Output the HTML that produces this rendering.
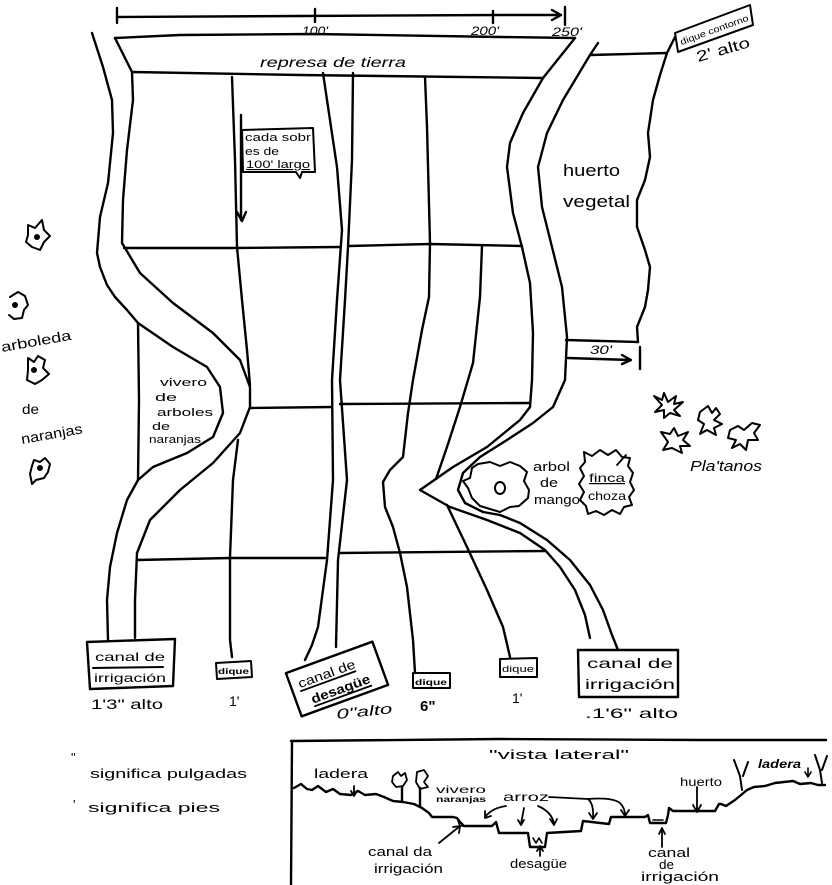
<!DOCTYPE html>
<html><head><meta charset="utf-8">
<style>
html,body{margin:0;padding:0;background:#fff;}
svg{display:block;}
text{font-family:"Liberation Sans",sans-serif;fill:#000;stroke:none;}
</style></head><body>
<svg width="832" height="885" viewBox="0 0 832 885" xmlns="http://www.w3.org/2000/svg">
<rect x="0" y="0" width="832" height="885" fill="#fff"/>
<g fill="none" stroke="#000" stroke-width="2.4" stroke-linecap="round" stroke-linejoin="round">
<!-- scale bar -->
<path d="M117,17 L300,16 L500,15 L561,15"/>
<path d="M117,8 V23 M315,9 V22 M493,11 V23 M565,7 V25"/>
<path d="M552,10 L561,15 L552,20"/>
<!-- dam -->
<path d="M115,38 L180,35 L313,34 L500,37 L575,38"/>
<path d="M132,72 L300,75 L543,78"/>
<!-- left canal -->
<path d="M115,38 L132,72 L133,100 L127,150 L123,200 L122,243 L140,273 L173,303 L213,333 L240,360 L250,387 L250,407 L240,433 L213,463 L180,490 L150,520 L137,553 L135,600 L135,638"/>
<path d="M92,33 L103,67 L112,100 L113,133 L108,183 L100,217 L97,253 L100,267 L107,285 L115,297 L127,310 L138,323 L173,347 L207,367 L220,387 L223,413 L213,437 L187,453 L153,467 L138,480 L127,500 L117,533 L110,567 L107,600 L108,640"/>
<path d="M138,323 L139,400 L138,480"/>
<!-- dique 1 -->
<path d="M232,77 L235,160 L237,247 L242,300 L247,350 L250,385"/>
<path d="M238,440 L233,480 L230,557 L230,640 L232,657"/>
<!-- drain -->
<path d="M323,73 L327,100 L337,167 L342,230 L337,300 L332,380 L333,480 L327,560 L318,627 L312,645 L305,660"/>
<path d="M353,73 L352,160 L348,247 L345,300 L340,380 L347,480 L338,560 L336,647"/>
<!-- dique 3 -->
<path d="M425,77 L427,127 L430,243 L429,297 L422,330 L413,380 L408,413 L403,457 L390,470 L383,482 L385,507 L393,527 L400,553 L407,587 L413,640 L415,673"/>
<!-- dique 4 -->
<path d="M482,246 L480,297 L473,363 L460,407 L447,447 L436,479"/>
<path d="M447,505 L467,547 L487,590 L503,627 L510,657"/>
<!-- right canal -->
<path d="M575,38 L543,78 L523,113 L510,143 L507,167 L513,213 L522,247 L530,283 L533,333 L532,380 L530,407 L520,420 L487,447 L453,467 L420,490 L450,507 L487,520 L520,533 L545,550 L560,567 L575,590 L585,615 L590,638"/>
<path d="M598,43 L590,55 L563,100 L547,133 L538,167 L542,207 L552,247 L562,287 L567,337 L565,380 L553,407 L533,423 L507,440 L480,457 L463,473 L458,490 L465,503 L483,512 L500,515 L520,523 L547,540 L570,560 L590,585 L603,610 L612,635 L618,650"/>
<!-- horizontals -->
<path d="M124,248 L230,248 L340,247"/>
<path d="M349,246 L430,244 L522,246"/>
<path d="M250,408 L332,407"/>
<path d="M340,404 L530,403"/>
<path d="M137,560 L230,558 L327,558"/>
<path d="M340,553 L545,551"/>
<!-- huerto -->
<path d="M590,55 L667,53"/>
<path d="M675,37 L667,53 L660,75 L653,100 L648,133 L650,157 L645,180 L637,200 L637,227 L645,250 L650,267 L648,290 L645,307 L637,327 L638,342"/>
<path d="M566,340 L638,342"/>
<path d="M640,347 V369"/>
<path d="M568,358 L630,360 M622,355 L631,360 L622,364"/>
<!-- cada box + arrow -->
<path d="M242,130 L313,128 L315,172 L302,172 L300,178 L296,172 L243,172 Z" stroke-width="2"/>
<path d="M241,115 V220 M237,212 L242,221 L246,212"/>
<!-- dique contorno box -->
<path d="M675,33 L750,5 L753,25 L678,52 Z" stroke-width="2"/>
<!-- mango tree -->
<path d="M478,464 L490,462 L500,466 L510,462 L520,466 L527,472 L524,481 L529,490 L528,498 L519,506 L510,507 L500,512 L490,509 L480,506 L472,498 L468,488 L463,481 L470,478 L472,468 Z" stroke-width="2"/>
<ellipse cx="500" cy="488" rx="5" ry="6" stroke-width="2"/>
<!-- finca choza jagged -->
<path d="M584,452 L592,456 L600,450 L608,455 L616,450 L622,457 L630,458 L628,466 L633,473 L630,482 L634,490 L629,497 L632,505 L624,507 L620,514 L612,510 L604,515 L596,511 L588,514 L586,506 L580,500 L584,492 L579,484 L584,476 L580,468 L585,462 Z" stroke-width="2"/>
<path d="M617,465 L626,455" stroke-width="1.8"/>
<!-- left trees -->
<path d="M28,225 L35,228 L42,220 L44,230 L50,236 L44,242 L40,250 L32,247 L26,242 L28,235 Z" stroke-width="2"/>
<circle cx="37" cy="237" r="1.8" fill="#000"/>
<path d="M10,297 L18,292 L25,296 L28,305 L24,310 L22,318 L14,319 L9,315" stroke-width="2"/>
<circle cx="15" cy="305" r="1.8" fill="#000"/>
<path d="M28,358 L34,362 L38,356 L45,360 L43,368 L49,374 L42,380 L35,384 L27,380 L28,370 Z" stroke-width="2"/>
<circle cx="34" cy="370" r="1.8" fill="#000"/>
<path d="M34,460 L40,462 L45,458 L50,464 L48,472 L44,478 L36,480 L32,484 L30,474 L32,466 Z" stroke-width="2"/>
<circle cx="40" cy="468" r="1.8" fill="#000"/>
<!-- platanos leaves -->
<g stroke-width="2">
<path d="M654,396 L662,400 L664,393 L668,402 L676,396 L674,404 L683,402 L674,410 L680,416 L670,413 L664,418 L664,410 L655,412 L662,405 Z"/>
<path d="M700,412 L708,406 L712,413 L716,408 L720,414 L714,420 L722,424 L714,428 L716,435 L707,430 L700,434 L704,424 L698,420 Z"/>
<path d="M661,432 L670,434 L674,428 L678,436 L688,432 L683,440 L690,446 L680,446 L682,453 L672,448 L663,450 L668,442 Z"/>
<path d="M730,430 L738,426 L744,430 L752,423 L760,425 L754,433 L758,440 L748,440 L746,450 L740,444 L732,448 L736,440 L728,438 Z"/>
</g>
<!-- bottom boxes -->
<path d="M87,642 L175,639 L173,686 L90,689 Z"/>
<path d="M93,668 L163,667" stroke-width="2"/>
<path d="M216,663 L251,661 L252,677 L217,679 Z" stroke-width="2"/>
<g transform="translate(337,679) rotate(-20)">
<rect x="-46" y="-23" width="92" height="46"/>
<path d="M-38,-1 L20,-1 M-30,18 L30,18" stroke-width="1.8"/>
</g>
<path d="M413,673 L450,673 L450,688 L413,688 Z" stroke-width="2"/>
<path d="M500,659 L537,658 L537,677 L500,677 Z" stroke-width="2"/>
<path d="M578,650 L678,650 L678,697 L579,697 Z"/>
<!-- side view frame -->
<path d="M292,742 L291,885"/>
<path d="M291,741 L500,739 L700,740 L826,740"/>
<!-- profile -->
<path d="M294,788 L301,784 L307,789 L312,790 L318,786 L326,792 L333,789 L340,794 L351,795 L358,791 L365,795 L376,794 L384,797 L393,801 L403,802 L414,804 L422,808 L429,813 L432,817 L453,817 L457,818 L460,822 L464,826 L492,826 L496,822 L499,833 L528,833 L530,847 L545,847 L547,833 L581,831 L583,821 L609,824 L611,817 L645,817 L648,815 L650,823 L666,823 L668,815 L669,808 L673,811 L715,811 L719,804 L721,804 L726,806 L735,800 L747,790 L754,787 L765,786 L775,783 L793,781 L800,784 L811,783 L818,785 L825,785"/>
<!-- notches details -->
<path d="M533,838 L536,843 L539,838 L542,843" stroke-width="1.6"/>
<path d="M457,818 L460,826 L466,826" stroke-width="1.6"/>
<path d="M653,820 L663,820" stroke-width="1.6"/>
<!-- tree icons side -->
<path d="M393,776 L398,772 L401,776 L405,773 L407,780 L403,786 L396,787 L392,782 Z" stroke-width="1.8"/>
<path d="M402,787 L402,801"/>
<path d="M417,772 L424,770 L428,776 L424,782 L428,787 L420,789 L416,782 Z" stroke-width="1.8"/>
<path d="M420,788 L420,806"/>
<!-- plants right -->
<path d="M734,760 L740,776 L742,790 M748,762 L743,776" stroke-width="2"/>
<path d="M815,755 L820,770 L822,783 M827,756 L822,770" stroke-width="2"/>
<path d="M808,768 L808,776 M805,772 L808,777 L811,772" stroke-width="1.6"/>
<!-- arrows side -->
<path d="M354,786 L354,795 M351,791 L354,796 L357,791" stroke-width="1.8"/>
<path d="M697,787 L697,811 M693,805 L697,812 L701,805" stroke-width="1.8"/>
<path d="M439,843 L460,826 M453,827 L460,826 L459,833" stroke-width="1.8"/>
<path d="M540,856 L540,847 M537,851 L540,846 L543,851" stroke-width="1.8"/>
<path d="M662,847 L662,829 M659,834 L662,828 L665,834" stroke-width="1.8"/>
<path d="M506,806 Q492,808 485,817 M485,811 L485,818 L491,816" stroke-width="1.8"/>
<path d="M524,808 L521,824 M518,820 L521,825 L524,820" stroke-width="1.8"/>
<path d="M538,806 Q552,812 554,824 M550,819 L554,825 L557,819" stroke-width="1.8"/>
<path d="M549,797 L588,799 Q594,804 593,818 M589,813 L593,819 L597,813" stroke-width="1.8"/>
<path d="M588,799 Q612,797 620,803 Q625,808 625,815 M621,810 L625,816 L629,810" stroke-width="1.8"/>
</g>

<!-- TEXT -->
<g font-size="12" font-style="italic">
<text x="302" y="35" textLength="26" lengthAdjust="spacingAndGlyphs">100'</text>
<text x="471" y="35" textLength="28" lengthAdjust="spacingAndGlyphs">200'</text>
<text x="552" y="36" textLength="30" lengthAdjust="spacingAndGlyphs">250'</text>
<text x="260" y="67" font-size="14" textLength="146" lengthAdjust="spacingAndGlyphs">represa de tierra</text>
</g>
<g font-size="11">
<text x="245" y="141" textLength="66" lengthAdjust="spacingAndGlyphs">cada sobr</text>
<text x="245" y="155" textLength="34" lengthAdjust="spacingAndGlyphs">es de</text>
<text x="246" y="168" textLength="64" lengthAdjust="spacingAndGlyphs" text-decoration="underline">100' largo</text>
</g>
<text x="563" y="176" font-size="17" textLength="57" lengthAdjust="spacingAndGlyphs">huerto</text>
<text x="563" y="207" font-size="17" textLength="67" lengthAdjust="spacingAndGlyphs">vegetal</text>
<text x="590" y="354" font-size="12" font-style="italic" textLength="22" lengthAdjust="spacingAndGlyphs">30'</text>
<g font-size="11">
<text x="160" y="386" textLength="47" lengthAdjust="spacingAndGlyphs">vivero</text>
<text x="155" y="401" textLength="22" lengthAdjust="spacingAndGlyphs">de</text>
<text x="157" y="416" textLength="56" lengthAdjust="spacingAndGlyphs">arboles</text>
<text x="152" y="430" textLength="18" lengthAdjust="spacingAndGlyphs">de</text>
<text x="149" y="443" textLength="52" lengthAdjust="spacingAndGlyphs">naranjas</text>
</g>
<g font-size="14">
<text x="2" y="352" transform="rotate(-10 2 352)" textLength="71" lengthAdjust="spacingAndGlyphs">arboleda</text>
<text x="22" y="414" textLength="17" lengthAdjust="spacingAndGlyphs">de</text>
<text x="22" y="444" transform="rotate(-10 22 444)" textLength="62" lengthAdjust="spacingAndGlyphs">naranjas</text>
</g>
<g font-size="13">
<text x="533" y="471" textLength="37" lengthAdjust="spacingAndGlyphs">arbol</text>
<text x="540" y="487" textLength="18" lengthAdjust="spacingAndGlyphs">de</text>
<text x="534" y="504" textLength="46" lengthAdjust="spacingAndGlyphs">mango</text>
</g>
<g font-size="12">
<text x="589" y="482" textLength="36" lengthAdjust="spacingAndGlyphs" text-decoration="underline">finca</text>
<text x="588" y="500" textLength="38" lengthAdjust="spacingAndGlyphs">choza</text>
</g>
<text x="690" y="471" font-size="15" font-style="italic" textLength="72" lengthAdjust="spacingAndGlyphs">Pla'tanos</text>
<g transform="translate(714,29) rotate(-20)">
<text x="-36" y="4" font-size="9" textLength="72" lengthAdjust="spacingAndGlyphs">dique contorno</text>
</g>
<text x="698" y="62" font-size="15" transform="rotate(-16 698 62)" textLength="55" lengthAdjust="spacingAndGlyphs">2' alto</text>
<!-- bottom labels -->
<g font-size="12">
<text x="95" y="661" textLength="70" lengthAdjust="spacingAndGlyphs">canal de</text>
<text x="94" y="682" textLength="72" lengthAdjust="spacingAndGlyphs">irrigación</text>
</g>
<text x="91" y="709" font-size="14" textLength="72" lengthAdjust="spacingAndGlyphs">1'3" alto</text>
<text x="218" y="674" font-size="8" font-weight="bold" textLength="31" lengthAdjust="spacingAndGlyphs">dique</text>
<text x="229" y="706" font-size="14">1'</text>
<g transform="translate(337,679) rotate(-20)">
<text x="-38" y="-4" font-size="13" textLength="60" lengthAdjust="spacingAndGlyphs">canal de</text>
<text x="-31" y="15" font-size="13" font-weight="bold" textLength="62" lengthAdjust="spacingAndGlyphs">desagüe</text>
</g>
<text x="337" y="719" font-size="14" font-style="italic" transform="rotate(-6 337 719)" textLength="56" lengthAdjust="spacingAndGlyphs">0"alto</text>
<text x="415" y="685" font-size="8" font-weight="bold" textLength="32" lengthAdjust="spacingAndGlyphs">dique</text>
<text x="420" y="711" font-size="15" font-weight="bold">6"</text>
<text x="502" y="672" font-size="9" textLength="32" lengthAdjust="spacingAndGlyphs">dique</text>
<text x="512" y="703" font-size="14">1'</text>
<g font-size="14">
<text x="587" y="668" textLength="86" lengthAdjust="spacingAndGlyphs">canal de</text>
<text x="585" y="689" textLength="90" lengthAdjust="spacingAndGlyphs">irrigación</text>
<text x="585" y="718" textLength="93" lengthAdjust="spacingAndGlyphs">.1'6" alto</text>
</g>
<!-- legend -->
<g font-size="13">
<text x="71" y="762">"</text>
<text x="90" y="778" textLength="157" lengthAdjust="spacingAndGlyphs">significa pulgadas</text>
<text x="73" y="809">'</text>
<text x="88" y="812" textLength="132" lengthAdjust="spacingAndGlyphs">significa pies</text>
</g>
<!-- side view text -->
<text x="489" y="759" font-size="13" textLength="140" lengthAdjust="spacingAndGlyphs">"vista lateral"</text>
<text x="314" y="778" font-size="13" textLength="54" lengthAdjust="spacingAndGlyphs">ladera</text>
<text x="436" y="793" font-size="10" textLength="50" lengthAdjust="spacingAndGlyphs">vivero</text>
<text x="436" y="802" font-size="8" font-weight="bold" textLength="50" lengthAdjust="spacingAndGlyphs">naranjas</text>
<text x="503" y="801" font-size="12" textLength="46" lengthAdjust="spacingAndGlyphs">arroz</text>
<text x="680" y="786" font-size="12" textLength="42" lengthAdjust="spacingAndGlyphs">huerto</text>
<text x="758" y="768" font-size="12" font-style="italic" font-weight="bold" textLength="43" lengthAdjust="spacingAndGlyphs">ladera</text>
<g font-size="13">
<text x="368" y="856" textLength="64" lengthAdjust="spacingAndGlyphs">canal da</text>
<text x="374" y="873" textLength="69" lengthAdjust="spacingAndGlyphs">irrigación</text>
<text x="510" y="868" textLength="57" lengthAdjust="spacingAndGlyphs">desagüe</text>
<text x="648" y="857" textLength="42" lengthAdjust="spacingAndGlyphs">canal</text>
<text x="659" y="869" textLength="15" lengthAdjust="spacingAndGlyphs">de</text>
<text x="641" y="881" textLength="78" lengthAdjust="spacingAndGlyphs">irrigación</text>
</g>
</svg>
</body></html>
